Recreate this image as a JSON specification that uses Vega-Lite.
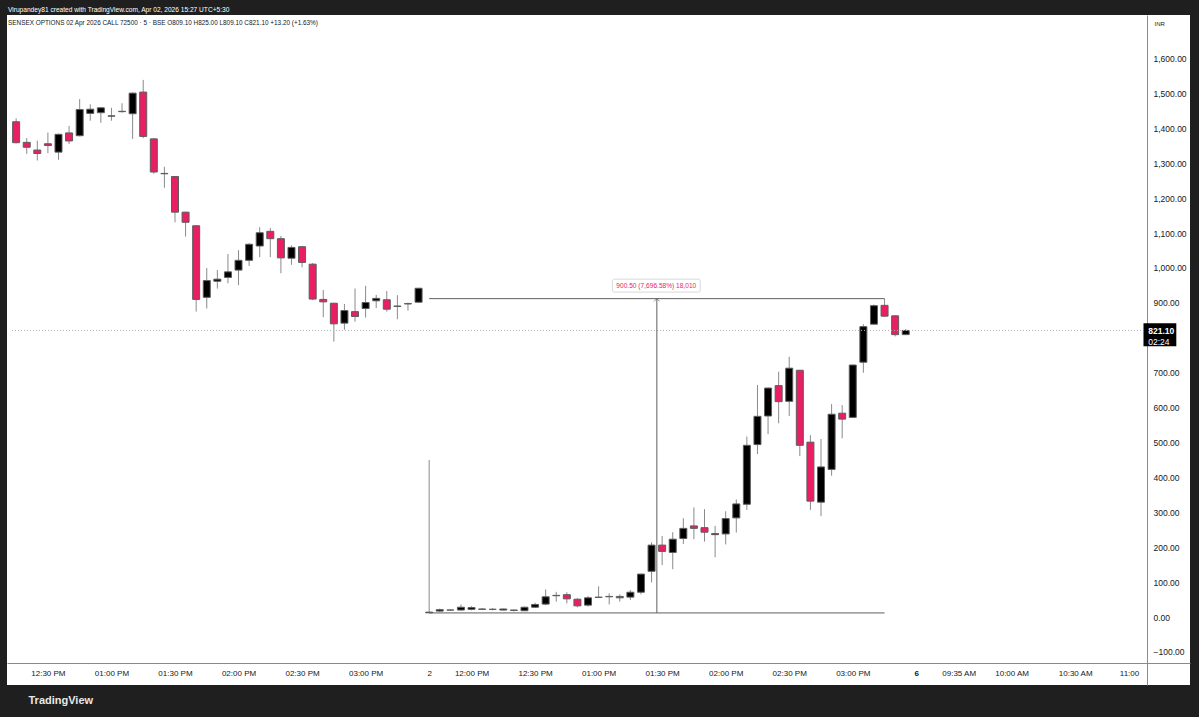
{
  "$schema": "https://vega.github.io/schema/vega-lite/v6.json",
  "width": 1183,
  "height": 670,
  "autosize": {"type": "none"},
  "padding": {"left": 7, "top": 15, "right": 9, "bottom": 32},
  "background": "#1f1f1f",
  "config": {"view": {"fill": "#ffffff", "stroke": null}, "font": "Liberation Sans", "axis": {"labelOverlap": false}},
  "title": {
    "text": "Virupandey81 created with TradingView.com, Apr 02, 2026 15:27 UTC+5:30",
    "subtitle": "SENSEX OPTIONS 02 Apr 2026 CALL 72500 · 5 · BSE  O809.10 H825.00 L809.10 C821.10 +13.20 (+1.63%)",
    "anchor": "start",
    "frame": "group",
    "orient": "top",
    "fontSize": 6.6,
    "fontWeight": "normal",
    "color": "#ffffff",
    "subtitleFontSize": 6.4,
    "subtitleColor": "#131722",
    "subtitlePadding": 6,
    "offset": -11,
    "dx": 1
  },
  "datasets": {
    "candles": [
      {"i": 0, "o": 1419, "h": 1429, "l": 1357, "c": 1359},
      {"i": 1, "o": 1360, "h": 1372, "l": 1327, "c": 1346},
      {"i": 2, "o": 1338, "h": 1365, "l": 1308, "c": 1328},
      {"i": 3, "o": 1356, "h": 1388, "l": 1329, "c": 1351},
      {"i": 4, "o": 1332, "h": 1385, "l": 1310, "c": 1383},
      {"i": 5, "o": 1387, "h": 1407, "l": 1355, "c": 1364},
      {"i": 6, "o": 1379, "h": 1484, "l": 1377, "c": 1454},
      {"i": 7, "o": 1443, "h": 1469, "l": 1422, "c": 1455},
      {"i": 8, "o": 1445, "h": 1460, "l": 1416, "c": 1459},
      {"i": 9, "o": 1435, "h": 1459, "l": 1422, "c": 1436},
      {"i": 10, "o": 1448, "h": 1472, "l": 1445, "c": 1449},
      {"i": 11, "o": 1442, "h": 1503, "l": 1370, "c": 1501},
      {"i": 12, "o": 1504, "h": 1539, "l": 1372, "c": 1377},
      {"i": 13, "o": 1370, "h": 1372, "l": 1270, "c": 1275},
      {"i": 14, "o": 1270, "h": 1290, "l": 1230, "c": 1271},
      {"i": 15, "o": 1262, "h": 1263, "l": 1131, "c": 1160},
      {"i": 16, "o": 1160, "h": 1161, "l": 1090, "c": 1131},
      {"i": 17, "o": 1121, "h": 1122, "l": 875, "c": 910},
      {"i": 18, "o": 916, "h": 1000, "l": 884, "c": 964},
      {"i": 19, "o": 962, "h": 994, "l": 941, "c": 968},
      {"i": 20, "o": 973, "h": 1040, "l": 956, "c": 989},
      {"i": 21, "o": 994, "h": 1051, "l": 951, "c": 1022},
      {"i": 22, "o": 1022, "h": 1071, "l": 1006, "c": 1068},
      {"i": 23, "o": 1063, "h": 1117, "l": 1031, "c": 1101},
      {"i": 24, "o": 1105, "h": 1115, "l": 1031, "c": 1084},
      {"i": 25, "o": 1084, "h": 1092, "l": 985, "c": 1029},
      {"i": 26, "o": 1028, "h": 1065, "l": 1009, "c": 1059},
      {"i": 27, "o": 1061, "h": 1062, "l": 1002, "c": 1016},
      {"i": 28, "o": 1011, "h": 1014, "l": 908, "c": 911},
      {"i": 29, "o": 910, "h": 937, "l": 859, "c": 903},
      {"i": 30, "o": 899, "h": 900, "l": 789, "c": 840},
      {"i": 31, "o": 842, "h": 897, "l": 823, "c": 878},
      {"i": 32, "o": 875, "h": 941, "l": 846, "c": 861},
      {"i": 33, "o": 884, "h": 949, "l": 858, "c": 901},
      {"i": 34, "o": 906, "h": 923, "l": 885, "c": 913},
      {"i": 35, "o": 909, "h": 934, "l": 875, "c": 882},
      {"i": 36, "o": 890, "h": 922, "l": 853, "c": 891},
      {"i": 37, "o": 897, "h": 901, "l": 878, "c": 898},
      {"i": 38, "o": 902, "h": 943, "l": 901, "c": 942},
      {"i": 39, "o": 12, "h": 450, "l": 11.7, "c": 14},
      {"i": 40, "o": 17, "h": 24, "l": 15, "c": 21},
      {"i": 41, "o": 20, "h": 22, "l": 18, "c": 20},
      {"i": 42, "o": 20, "h": 36, "l": 19, "c": 28},
      {"i": 43, "o": 22, "h": 31, "l": 19, "c": 27},
      {"i": 44, "o": 23, "h": 25, "l": 20, "c": 22},
      {"i": 45, "o": 22, "h": 26, "l": 19, "c": 22},
      {"i": 46, "o": 20, "h": 24, "l": 19, "c": 23},
      {"i": 47, "o": 20, "h": 21, "l": 16, "c": 19},
      {"i": 48, "o": 18, "h": 30, "l": 17, "c": 28},
      {"i": 49, "o": 28, "h": 41, "l": 26, "c": 36},
      {"i": 50, "o": 37, "h": 79, "l": 34, "c": 58},
      {"i": 51, "o": 61, "h": 72, "l": 44, "c": 62},
      {"i": 52, "o": 64, "h": 71, "l": 39, "c": 52},
      {"i": 53, "o": 51, "h": 54, "l": 28, "c": 32},
      {"i": 54, "o": 34, "h": 60, "l": 30, "c": 55},
      {"i": 55, "o": 56, "h": 88, "l": 55, "c": 57},
      {"i": 56, "o": 58, "h": 68, "l": 36, "c": 59},
      {"i": 57, "o": 59, "h": 65, "l": 44, "c": 55},
      {"i": 58, "o": 57, "h": 77, "l": 49, "c": 71},
      {"i": 59, "o": 71, "h": 124, "l": 65, "c": 123},
      {"i": 60, "o": 131, "h": 214, "l": 99, "c": 206},
      {"i": 61, "o": 206, "h": 232, "l": 149, "c": 188},
      {"i": 62, "o": 185, "h": 243, "l": 137, "c": 223},
      {"i": 63, "o": 225, "h": 283, "l": 209, "c": 254},
      {"i": 64, "o": 261, "h": 314, "l": 223, "c": 254},
      {"i": 65, "o": 256, "h": 309, "l": 216, "c": 243},
      {"i": 66, "o": 236, "h": 261, "l": 171, "c": 239},
      {"i": 67, "o": 238, "h": 303, "l": 208, "c": 282},
      {"i": 68, "o": 284, "h": 337, "l": 242, "c": 324},
      {"i": 69, "o": 323, "h": 517, "l": 307, "c": 492},
      {"i": 70, "o": 494, "h": 665, "l": 467, "c": 575},
      {"i": 71, "o": 576, "h": 658, "l": 524, "c": 656},
      {"i": 72, "o": 663, "h": 703, "l": 555, "c": 617},
      {"i": 73, "o": 618, "h": 746, "l": 576, "c": 713},
      {"i": 74, "o": 707, "h": 708, "l": 461, "c": 492},
      {"i": 75, "o": 501, "h": 521, "l": 307, "c": 332},
      {"i": 76, "o": 329, "h": 510, "l": 289, "c": 430},
      {"i": 77, "o": 423, "h": 610, "l": 405, "c": 581},
      {"i": 78, "o": 584, "h": 607, "l": 512, "c": 567},
      {"i": 79, "o": 572, "h": 723, "l": 570, "c": 722},
      {"i": 80, "o": 730, "h": 839, "l": 700, "c": 832},
      {"i": 81, "o": 839, "h": 895, "l": 838, "c": 892},
      {"i": 82, "o": 893, "h": 912.2, "l": 860, "c": 862},
      {"i": 83, "o": 863, "h": 864, "l": 804, "c": 809.1},
      {"i": 84, "o": 809.1, "h": 825, "l": 809.1, "c": 821.1}
    ],
    "last": [{"price": 821.1, "countdown": "02:24"}],
    "measure": [
      {"x1": 39, "x2": 82, "y1": 912.2, "y2": 912.2},
      {"x1": 39, "x2": 82, "y1": 11.7, "y2": 11.7},
      {"x1": 60.5, "x2": 60.5, "y1": 11.7, "y2": 912.2}
    ],
    "measureLabel": [{"text": "900.50 (7,696.58%) 18,010"}]
  },
  "layer": [
    {
      "data": {"name": "candles"},
      "mark": {"type": "rule", "color": "#8a8a8a", "strokeWidth": 1},
      "encoding": {
        "x": {
          "field": "i",
          "type": "quantitative",
          "scale": {"domain": [-0.39, 110.37], "nice": false, "zero": false},
          "axis": {
            "orient": "bottom",
            "offset": -22,
            "values": [3, 9, 15, 21, 27, 33, 39, 43, 49, 55, 61, 67, 73, 79, 85, 89, 94, 100, 106],
            "tickCount": 40,
            "labelExpr": "['12:30 PM','01:00 PM','01:30 PM','02:00 PM','02:30 PM','03:00 PM','2','12:00 PM','12:30 PM','01:00 PM','01:30 PM','02:00 PM','02:30 PM','03:00 PM','6','09:35 AM','10:00 AM','10:30 AM','11:00'][indexof([3,9,15,21,27,33,39,43,49,55,61,67,73,79,85,89,94,100,106], datum.value)]",
            "labelFontWeight": {"condition": {"test": "datum.value === 85", "value": "bold"}, "value": "normal"},
            "labelAlign": {"condition": {"test": "datum.value === 106", "value": "right"}, "value": "center"},
            "ticks": false,
            "grid": false,
            "labelFontSize": 8,
            "labelColor": "#131722",
            "domainColor": "#8a8a8a",
            "labelPadding": 6,
            "labelFlush": false,
            "labelOverlap": false,
            "title": "TradingView",
            "titleX": 21,
            "titleY": 37,
            "titleAlign": "left",
            "titleBaseline": "middle",
            "titleFontSize": 11,
            "titleFontWeight": "bold",
            "titleColor": "#e8e8e8"
          }
        },
        "y": {
          "field": "l",
          "type": "quantitative",
          "scale": {"domain": [-194.8, 1724.9], "nice": false, "zero": false},
          "axis": {
            "orient": "right",
            "offset": -43,
            "values": [-100, 0, 100, 200, 300, 400, 500, 600, 700, 900, 1000, 1100, 1200, 1300, 1400, 1500, 1600],
            "tickCount": 40,
            "format": ",.2f",
            "ticks": false,
            "grid": false,
            "labelFontSize": 8.5,
            "labelColor": "#131722",
            "labelPadding": 6,
            "domainColor": "#8a8a8a",
            "labelOverlap": false,
            "labelBound": false,
            "title": "INR",
            "titleAngle": 0,
            "titleX": 7,
            "titleY": 8,
            "titleAlign": "left",
            "titleBaseline": "middle",
            "titleFontSize": 6,
            "titleFontWeight": "normal",
            "titleColor": "#131722"
          }
        },
        "y2": {"field": "h"}
      }
    },
    {
      "data": {"name": "candles"},
      "mark": {"type": "bar", "size": 7, "stroke": "#5d5d5d", "strokeWidth": 1},
      "encoding": {
        "x": {"field": "i", "type": "quantitative"},
        "y": {"field": "o", "type": "quantitative"},
        "y2": {"field": "c"},
        "fill": {"condition": {"test": "datum.c >= datum.o", "value": "#000000"}, "value": "#e91e63"}
      }
    },
    {
      "data": {"name": "last"},
      "mark": {"type": "rule", "color": "#b0b0b0", "strokeDash": [1, 2], "strokeWidth": 1},
      "encoding": {
        "x": {"datum": -0.39, "type": "quantitative"},
        "x2": {"datum": 106.35},
        "y": {"field": "price", "type": "quantitative"}
      }
    },
    {
      "data": {"name": "measure"},
      "mark": {"type": "rule", "color": "#5f5f5f", "strokeWidth": 1},
      "encoding": {
        "x": {"field": "x1", "type": "quantitative"},
        "x2": {"field": "x2"},
        "y": {"field": "y1", "type": "quantitative"},
        "y2": {"field": "y2"}
      }
    },
    {
      "data": {"name": "measureLabel"},
      "mark": {"type": "point", "shape": "M-1,1L0,0L1,1", "size": 30, "filled": false, "stroke": "#5f5f5f", "strokeWidth": 1},
      "encoding": {
        "x": {"datum": 60.5, "type": "quantitative"},
        "y": {"datum": 912.2, "type": "quantitative"}
      }
    },
    {
      "data": {"name": "measureLabel"},
      "mark": {"type": "rect", "fill": "#ffffff", "stroke": "#d6d8de", "strokeWidth": 1, "cornerRadius": 2},
      "encoding": {
        "x": {"datum": 56.3, "type": "quantitative"},
        "x2": {"datum": 64.6},
        "y": {"datum": 968, "type": "quantitative"},
        "y2": {"datum": 931}
      }
    },
    {
      "data": {"name": "measureLabel"},
      "mark": {"type": "text", "fontSize": 6.6, "color": "#e91e63", "align": "center", "baseline": "middle"},
      "encoding": {
        "x": {"datum": 60.45, "type": "quantitative"},
        "y": {"datum": 949.5, "type": "quantitative"},
        "text": {"field": "text"}
      }
    },
    {
      "data": {"name": "last"},
      "mark": {"type": "rect", "fill": "#000000"},
      "encoding": {
        "x": {"datum": 106.45, "type": "quantitative"},
        "x2": {"datum": 109.55},
        "y": {"datum": 842, "type": "quantitative"},
        "y2": {"datum": 776}
      }
    },
    {
      "data": {"name": "last"},
      "mark": {"type": "text", "fontSize": 8.5, "fontWeight": "bold", "color": "#ffffff", "align": "left", "baseline": "middle", "dy": 1},
      "encoding": {
        "x": {"datum": 106.9, "type": "quantitative"},
        "y": {"field": "price", "type": "quantitative"},
        "text": {"field": "price", "format": ",.2f"}
      }
    },
    {
      "data": {"name": "last"},
      "mark": {"type": "text", "fontSize": 8.5, "color": "#ffffff", "align": "left", "baseline": "middle", "dy": 12},
      "encoding": {
        "x": {"datum": 106.9, "type": "quantitative"},
        "y": {"field": "price", "type": "quantitative"},
        "text": {"field": "countdown"}
      }
    }
  ]
}
